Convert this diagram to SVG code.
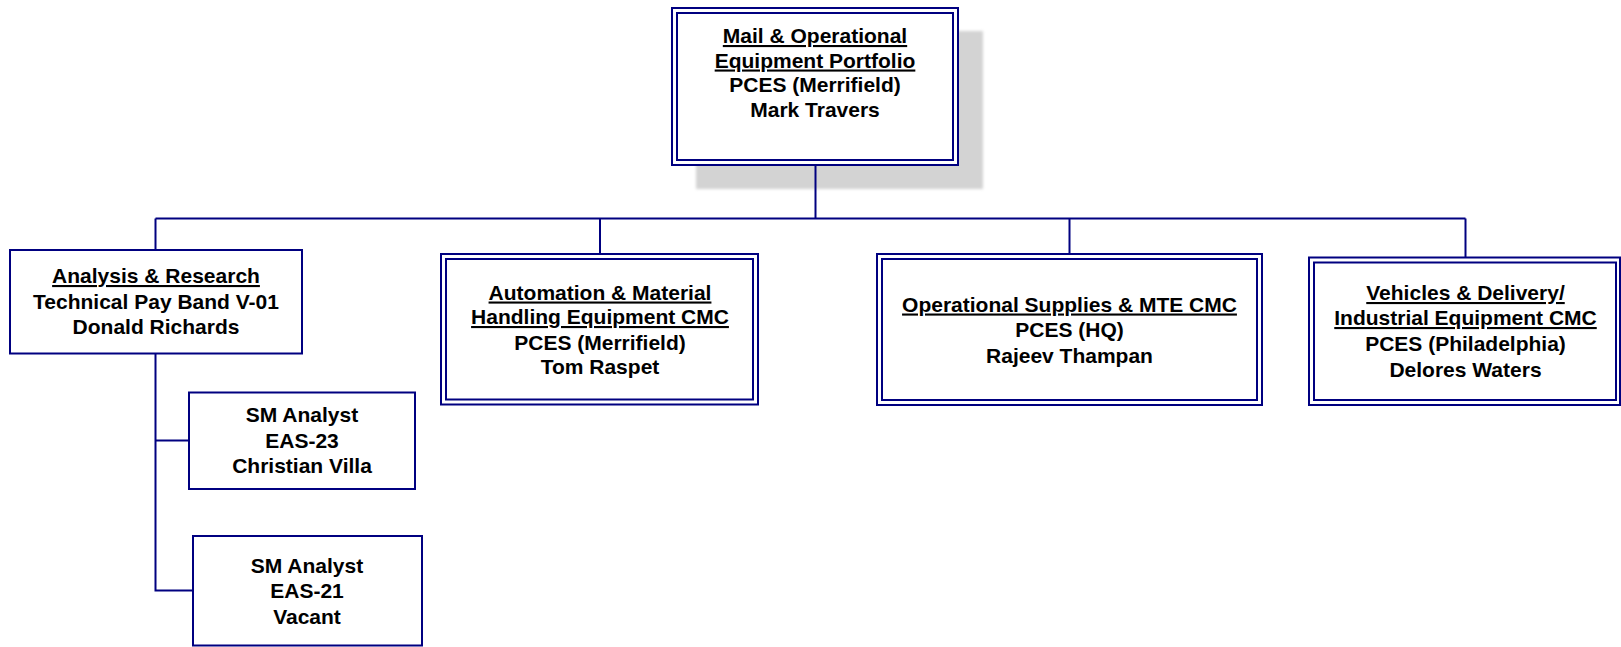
<svg xmlns="http://www.w3.org/2000/svg" width="1621" height="647" viewBox="0 0 1621 647">
<defs>
<filter id="blur" x="-10%" y="-10%" width="120%" height="120%"><feGaussianBlur stdDeviation="1.5"/></filter>
</defs>
<style>
.box{fill:#ffffff;stroke:#000080;stroke-width:2}
.inner{fill:none;stroke:#000080;stroke-width:2}
.conn{fill:none;stroke:#000080;stroke-width:2}
text{font-family:"Liberation Sans",Arial,sans-serif;font-weight:bold;font-size:21px;fill:#000000;text-anchor:middle}
.u{text-decoration:underline}
</style>
<rect x="696" y="31" width="287" height="158" fill="#d3d3d3" filter="url(#blur)"/>
<g id="connectors">
<path class="conn" d="M815.5 165 V218.5"/>
<path class="conn" d="M155.5 218.5 H1465.5"/>
<path class="conn" d="M155.5 218.5 V250"/>
<path class="conn" d="M600 218.5 V254"/>
<path class="conn" d="M1069.5 218.5 V254"/>
<path class="conn" d="M1465.5 218.5 V257"/>
<path class="conn" d="M155.5 353 V590.5 H193"/>
<path class="conn" d="M155.5 440.5 H189"/>
</g>
<g id="node-portfolio">
<rect class="box" x="672" y="8" width="286" height="157"/>
<rect class="inner" x="677" y="13" width="276" height="147"/>
<text x="815" y="43" class="u">Mail &amp; Operational</text>
<text x="815" y="67.5" class="u">Equipment Portfolio</text>
<text x="815" y="92">PCES (Merrifield)</text>
<text x="815" y="116.5">Mark Travers</text>
</g>
<g id="node-analysis">
<rect class="box" x="10" y="250" width="292" height="103.5"/>
<text x="156" y="283" class="u">Analysis &amp; Research</text>
<text x="156" y="308.5">Technical Pay Band V-01</text>
<text x="156" y="333.5">Donald Richards</text>
</g>
<g id="node-sm23">
<rect class="box" x="189" y="392.5" width="226" height="96.5"/>
<text x="302" y="421.5">SM Analyst</text>
<text x="302" y="447.5">EAS-23</text>
<text x="302" y="473">Christian Villa</text>
</g>
<g id="node-sm21">
<rect class="box" x="193" y="536" width="229" height="109.5"/>
<text x="307" y="572.5">SM Analyst</text>
<text x="307" y="598">EAS-21</text>
<text x="307" y="623.5">Vacant</text>
</g>
<g id="node-automation">
<rect class="box" x="441" y="254" width="317" height="150.5"/>
<rect class="inner" x="446" y="259" width="307" height="140.5"/>
<text x="600" y="299.5" class="u">Automation &amp; Material</text>
<text x="600" y="324" class="u">Handling Equipment CMC</text>
<text x="600" y="349.5">PCES (Merrifield)</text>
<text x="600" y="374">Tom Raspet</text>
</g>
<g id="node-opsupplies">
<rect class="box" x="877" y="254" width="385" height="151"/>
<rect class="inner" x="882" y="259" width="375" height="141"/>
<text x="1069.5" y="311.5" class="u">Operational Supplies &amp; MTE CMC</text>
<text x="1069.5" y="337">PCES (HQ)</text>
<text x="1069.5" y="362.5">Rajeev Thampan</text>
</g>
<g id="node-vehicles">
<rect class="box" x="1309" y="257.5" width="311" height="147.5"/>
<rect class="inner" x="1314" y="262.5" width="302" height="137.5"/>
<text x="1465.5" y="300" class="u">Vehicles &amp; Delivery/</text>
<text x="1465.5" y="325" class="u">Industrial Equipment CMC</text>
<text x="1465.5" y="350.5">PCES (Philadelphia)</text>
<text x="1465.5" y="376.5">Delores Waters</text>
</g>
</svg>
